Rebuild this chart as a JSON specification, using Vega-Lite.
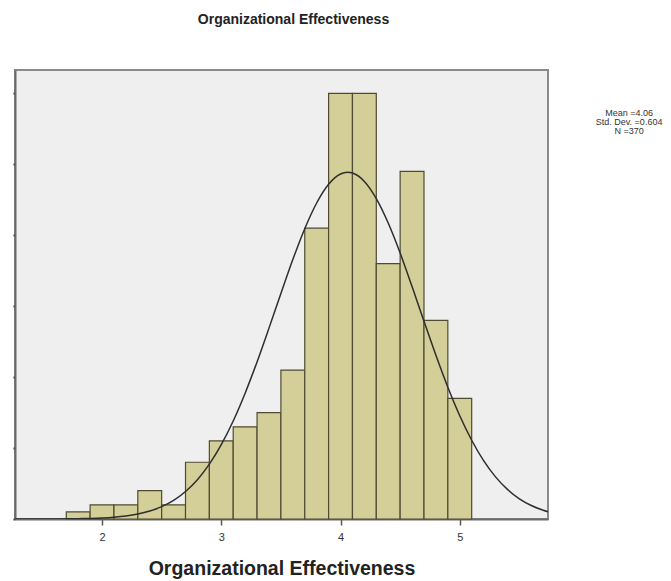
{
  "$schema": "https://vega.github.io/schema/vega-lite/v6.json",
  "width": 533,
  "height": 449,
  "autosize": {"type": "none"},
  "padding": {"left": 15, "top": 70, "right": 123, "bottom": 62},
  "background": "white",
  "title": {
    "text": "Organizational Effectiveness",
    "font": "Liberation Sans",
    "fontSize": 14,
    "fontWeight": "bold",
    "color": "#222222",
    "anchor": "middle",
    "frame": "group",
    "baseline": "alphabetic",
    "offset": 32,
    "dx": 12
  },
  "view": {"fill": "#efefef", "stroke": "#8a8a8a", "strokeWidth": 2},
  "datasets": {
    "bins": [
      {"bin_start": 1.7, "bin_end": 1.9, "count": 1},
      {"bin_start": 1.9, "bin_end": 2.1, "count": 2},
      {"bin_start": 2.1, "bin_end": 2.3, "count": 2},
      {"bin_start": 2.3, "bin_end": 2.5, "count": 4},
      {"bin_start": 2.5, "bin_end": 2.7, "count": 2},
      {"bin_start": 2.7, "bin_end": 2.9, "count": 8},
      {"bin_start": 2.9, "bin_end": 3.1, "count": 11},
      {"bin_start": 3.1, "bin_end": 3.3, "count": 13},
      {"bin_start": 3.3, "bin_end": 3.5, "count": 15},
      {"bin_start": 3.5, "bin_end": 3.7, "count": 21},
      {"bin_start": 3.7, "bin_end": 3.9, "count": 41},
      {"bin_start": 3.9, "bin_end": 4.1, "count": 60},
      {"bin_start": 4.1, "bin_end": 4.3, "count": 60},
      {"bin_start": 4.3, "bin_end": 4.5, "count": 36},
      {"bin_start": 4.5, "bin_end": 4.7, "count": 49},
      {"bin_start": 4.7, "bin_end": 4.9, "count": 28},
      {"bin_start": 4.9, "bin_end": 5.1, "count": 17}
    ],
    "curve": [
      {"x": 1.27, "y": 0.001},
      {"x": 1.4, "y": 0.003},
      {"x": 1.5, "y": 0.006},
      {"x": 1.6, "y": 0.012},
      {"x": 1.7, "y": 0.024},
      {"x": 1.8, "y": 0.045},
      {"x": 1.9, "y": 0.082},
      {"x": 2.0, "y": 0.146},
      {"x": 2.1, "y": 0.253},
      {"x": 2.2, "y": 0.426},
      {"x": 2.3, "y": 0.70},
      {"x": 2.4, "y": 1.12},
      {"x": 2.5, "y": 1.74},
      {"x": 2.6, "y": 2.63},
      {"x": 2.7, "y": 3.88},
      {"x": 2.8, "y": 5.55},
      {"x": 2.9, "y": 7.73},
      {"x": 3.0, "y": 10.48},
      {"x": 3.1, "y": 13.82},
      {"x": 3.2, "y": 17.74},
      {"x": 3.3, "y": 22.15},
      {"x": 3.4, "y": 26.91},
      {"x": 3.5, "y": 31.80},
      {"x": 3.6, "y": 36.58},
      {"x": 3.7, "y": 40.93},
      {"x": 3.8, "y": 44.55},
      {"x": 3.9, "y": 47.19},
      {"x": 4.0, "y": 48.64},
      {"x": 4.06, "y": 48.88},
      {"x": 4.1, "y": 48.77},
      {"x": 4.2, "y": 47.59},
      {"x": 4.3, "y": 45.17},
      {"x": 4.4, "y": 41.72},
      {"x": 4.5, "y": 37.49},
      {"x": 4.6, "y": 32.77},
      {"x": 4.7, "y": 27.88},
      {"x": 4.8, "y": 23.08},
      {"x": 4.9, "y": 18.58},
      {"x": 5.0, "y": 14.56},
      {"x": 5.1, "y": 11.10},
      {"x": 5.2, "y": 8.23},
      {"x": 5.3, "y": 5.94},
      {"x": 5.4, "y": 4.17},
      {"x": 5.5, "y": 2.85},
      {"x": 5.6, "y": 1.90},
      {"x": 5.7, "y": 1.23},
      {"x": 5.74, "y": 1.02}
    ],
    "stats": [
      {"label": ["Mean =4.06", "Std. Dev. =0.604", "N =370"]}
    ]
  },
  "layer": [
    {
      "data": {"name": "bins"},
      "mark": {"type": "rect", "fill": "#d4ce98", "stroke": "#4f4b32", "strokeWidth": 1.2},
      "encoding": {
        "x": {
          "field": "bin_start",
          "type": "quantitative",
          "scale": {"domain": [1.27, 5.74], "nice": false, "zero": false},
          "axis": {
            "values": [2, 3, 4, 5],
            "format": "d",
            "title": "Organizational Effectiveness",
            "titleFont": "Liberation Sans",
            "titleFontSize": 19.5,
            "titleFontWeight": "bold",
            "titleColor": "#222222",
            "titlePadding": 17,
            "labelFont": "Liberation Sans",
            "labelFontSize": 11,
            "labelColor": "#333333",
            "labelPadding": 6,
            "tickSize": 6,
            "tickColor": "#555555",
            "tickWidth": 1.5,
            "domainColor": "#6a6a6a",
            "domainWidth": 2,
            "grid": false
          }
        },
        "x2": {"field": "bin_end"},
        "y": {
          "field": "count",
          "type": "quantitative",
          "scale": {"domain": [0, 63.3], "nice": false},
          "axis": {
            "values": [0, 10, 20, 30, 40, 50, 60],
            "labels": false,
            "title": null,
            "tickSize": 2,
            "tickColor": "#333333",
            "tickWidth": 2,
            "domainColor": "#6a6a6a",
            "domainWidth": 2,
            "grid": false
          }
        },
        "y2": {"datum": 0}
      }
    },
    {
      "data": {"name": "curve"},
      "mark": {"type": "line", "color": "#2e2e2e", "strokeWidth": 1.5, "interpolate": "monotone", "clip": true},
      "encoding": {
        "x": {"field": "x", "type": "quantitative"},
        "y": {"field": "y", "type": "quantitative"}
      }
    },
    {
      "data": {"name": "stats"},
      "mark": {"type": "text", "font": "Liberation Sans", "fontSize": 9, "lineHeight": 9, "align": "center", "baseline": "middle", "color": "#333333"},
      "encoding": {
        "x": {"datum": 6.42, "type": "quantitative"},
        "y": {"datum": 57.3, "type": "quantitative"},
        "text": {"field": "label"}
      }
    }
  ]
}
